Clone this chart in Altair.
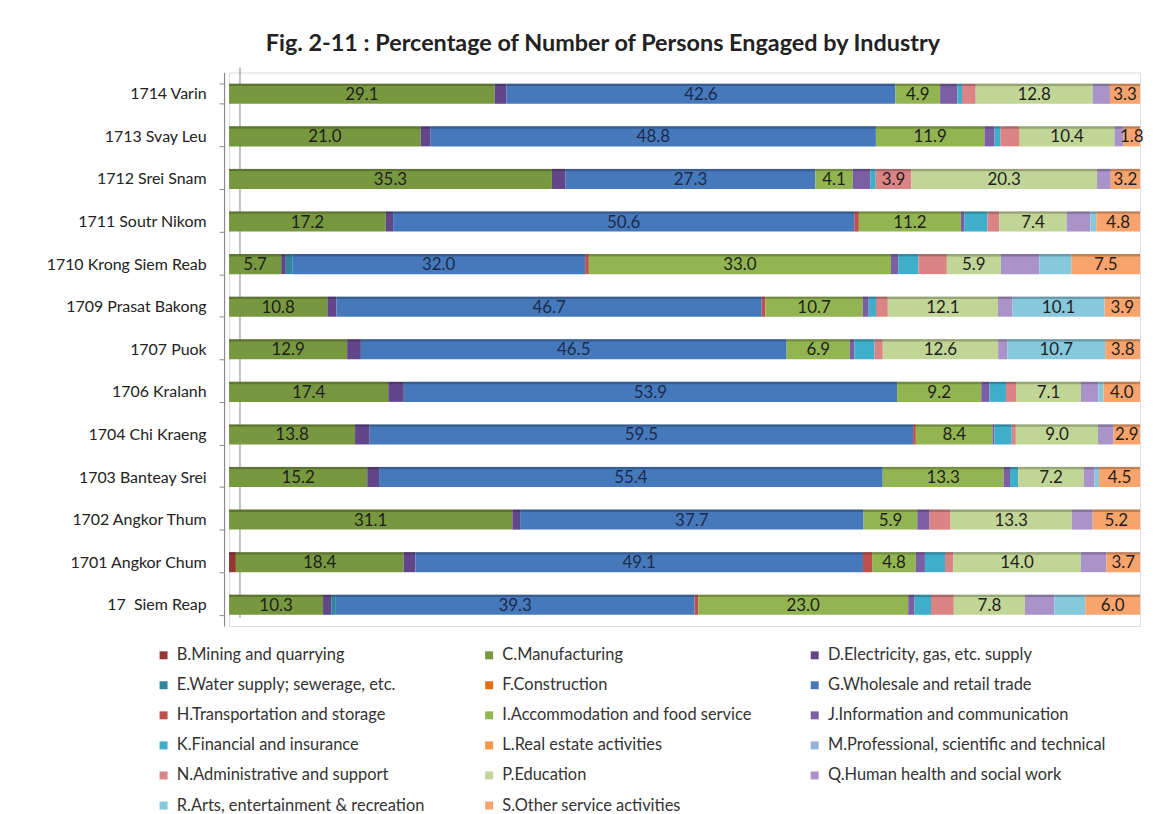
import altair as alt
import pandas as pd

ROWS = ["1714 Varin", "1713 Svay Leu", "1712 Srei Snam", "1711 Soutr Nikom",
        "1710 Krong Siem Reab", "1709 Prasat Bakong", "1707 Puok", "1706 Kralanh",
        "1704 Chi Kraeng", "1703 Banteay Srei", "1702 Angkor Thum",
        "1701 Angkor Chum", "17\u00a0 Siem Reap"]

CATS = ["B.Mining and quarrying", "C.Manufacturing", "D.Electricity, gas, etc. supply",
        "E.Water supply; sewerage, etc.", "F.Construction", "G.Wholesale and retail trade",
        "H.Transportation and storage", "I.Accommodation and food service",
        "J.Information and communication", "K.Financial and insurance",
        "L.Real estate activities", "M.Professional, scientific and technical",
        "N.Administrative and support", "P.Education", "Q.Human health and social work",
        "R.Arts, entertainment & recreation", "S.Other service activities"]

COLORS = ["#943634", "#789840", "#62468A", "#31859C", "#E46C0A", "#4679BB",
          "#C0504D", "#92B552", "#7B5EA3", "#3EAECB", "#F79646", "#95B3D7",
          "#DA8486", "#C1D596", "#A993C8", "#86C8DC", "#F8A46C"]

# values per industry, in the order of ROWS (percent)
B = [0, 0, 0, 0, 0, 0, 0, 0, 0, 0, 0, 0.75, 0]
C = [29.1, 21.0, 35.3, 17.2, 5.7, 10.8, 12.9, 17.4, 13.8, 15.2, 31.1, 18.4, 10.3]
D = [1.3, 1.1, 1.5, 0.8, 0.5, 1.0, 1.5, 1.7, 1.6, 1.3, 0.85, 1.3, 0.9]
E = [0, 0, 0, 0, 0.7, 0, 0, 0, 0, 0, 0, 0, 0.5]
F = [0, 0, 0, 0, 0, 0, 0, 0, 0, 0, 0, 0, 0]
G = [42.6, 48.8, 27.3, 50.6, 32.0, 46.7, 46.5, 53.9, 59.5, 55.4, 37.7, 49.1, 39.3]
H = [0, 0, 0, 0.5, 0.4, 0.4, 0, 0, 0.3, 0, 0, 1.0, 0.4]
I = [4.9, 11.9, 4.1, 11.2, 33.0, 10.7, 6.9, 9.2, 8.4, 13.3, 5.9, 4.8, 23.0]
J = [1.9, 1.1, 1.9, 0.4, 0.8, 0.65, 0.5, 0.9, 0.2, 0.7, 1.35, 1.0, 0.7]
K = [0.5, 0.65, 0.6, 2.5, 2.2, 0.8, 2.2, 1.8, 1.9, 0.9, 0, 2.2, 1.8]
L = [0, 0, 0, 0, 0, 0, 0, 0, 0, 0, 0, 0, 0]
M = [0, 0, 0, 0, 0, 0, 0, 0, 0, 0, 0, 0, 0]
N = [1.5, 2.1, 3.9, 1.3, 3.1, 1.3, 0.9, 1.1, 0.45, 0, 2.3, 0.9, 2.5]
P = [12.8, 10.4, 20.3, 7.4, 5.9, 12.1, 12.6, 7.1, 9.0, 7.2, 13.3, 14.0, 7.8]
Q = [1.9, 1.0, 1.5, 2.6, 4.2, 1.6, 1.0, 1.9, 1.7, 1.2, 2.3, 2.8, 3.2]
R = [0, 0, 0, 0.65, 3.5, 10.1, 10.7, 0.55, 0, 0.5, 0, 0, 3.4]
S = [3.3, 1.8, 3.2, 4.8, 7.5, 3.9, 3.8, 4.0, 2.9, 4.5, 5.2, 3.7, 6.0]

SERIES = [B, C, D, E, F, G, H, I, J, K, L, M, N, P, Q, R, S]

records = []
for ri, row in enumerate(ROWS):
    for ci, (cat, vals) in enumerate(zip(CATS, SERIES)):
        v = vals[ri]
        if v > 0:
            records.append({"row": row, "cat": cat, "code": cat[0], "order": ci, "value": v})
df = pd.DataFrame(records)

FONT = "Lato"

y_enc = alt.Y("row:N", sort=ROWS,
              scale=alt.Scale(paddingInner=0.53, paddingOuter=0.265),
              axis=alt.Axis(title=None, labelFont=FONT, labelFontSize=16, labelColor="#222222",
                            domainColor="#8a8a8a", domainWidth=1.2, tickColor="#8a8a8a",
                            tickBand="extent", tickSize=5, offset=5, labelPadding=13,
                            labelLimit=300, minExtent=212))

base = alt.Chart(df).transform_stack(
    stack="value", groupby=["row"], as_=["x0", "x1"], offset="normalize",
    sort=[alt.SortField("order", order="ascending")]
).transform_calculate(xm="(datum.x0 + datum.x1) / 2")

x_scale = alt.Scale(domain=[0, 1], nice=False, zero=True)

wall = alt.Chart(pd.DataFrame({"v": [0]})).mark_rule(color="#9a9a9a", strokeWidth=1.2, xOffset=11).encode(
    x=alt.X("v:Q", scale=x_scale, axis=None),
    y=alt.value(-5), y2=alt.value(548))

bars = base.mark_bar().encode(
    x=alt.X("x0:Q", scale=x_scale, axis=None),
    x2="x1:Q",
    y=y_enc,
    color=alt.Color("cat:N", scale=alt.Scale(domain=CATS, range=COLORS),
                    legend=alt.Legend(title=None, orient="none", legendX=-74, legendY=577,
                                      columns=3, direction="horizontal", gridAlign="all",
                                      symbolType="square", symbolSize=64, symbolStrokeWidth=0,
                                      labelFont=FONT, labelFontSize=16.5, labelColor="#333333",
                                      labelLimit=400, labelOffset=5, rowPadding=13.2,
                                      columnPadding=26)),
)

top_edge = base.mark_bar(height=2.5, yOffset=-9, color="#000000", opacity=0.22).encode(
    x=alt.X("x0:Q", scale=x_scale, axis=None), x2="x1:Q", y=y_enc)

labels = base.transform_filter(
    "indexof(['C','G','I','P','S'], datum.code) >= 0 || "
    "((datum.code == 'N' || datum.code == 'R') && datum.value >= 3.8)"
).mark_text(font=FONT, fontSize=17, baseline="middle", align="center", dy=1).encode(
    x=alt.X("xm:Q", scale=x_scale, axis=None),
    y=y_enc,
    text=alt.Text("value:Q", format=".1f"),
    color=alt.condition("datum.code == 'G'", alt.value("#1B2B4B"), alt.value("#1E1E1E")),
)

chart = alt.layer(wall, bars, top_edge, labels).properties(
    width=915, height=556,
    title=alt.TitleParams("Fig. 2-11 : Percentage of Number of Persons Engaged by Industry",
                          font=FONT, fontSize=23.5, fontWeight="bold", color="#222222",
                          anchor="middle", dx=-82, offset=9),
    padding={"left": 5, "top": 22, "right": 5, "bottom": 5},
).configure_view(stroke=None).configure(background="white")

chart.save("out.html", embed_options={"renderer": "svg", "actions": False})
